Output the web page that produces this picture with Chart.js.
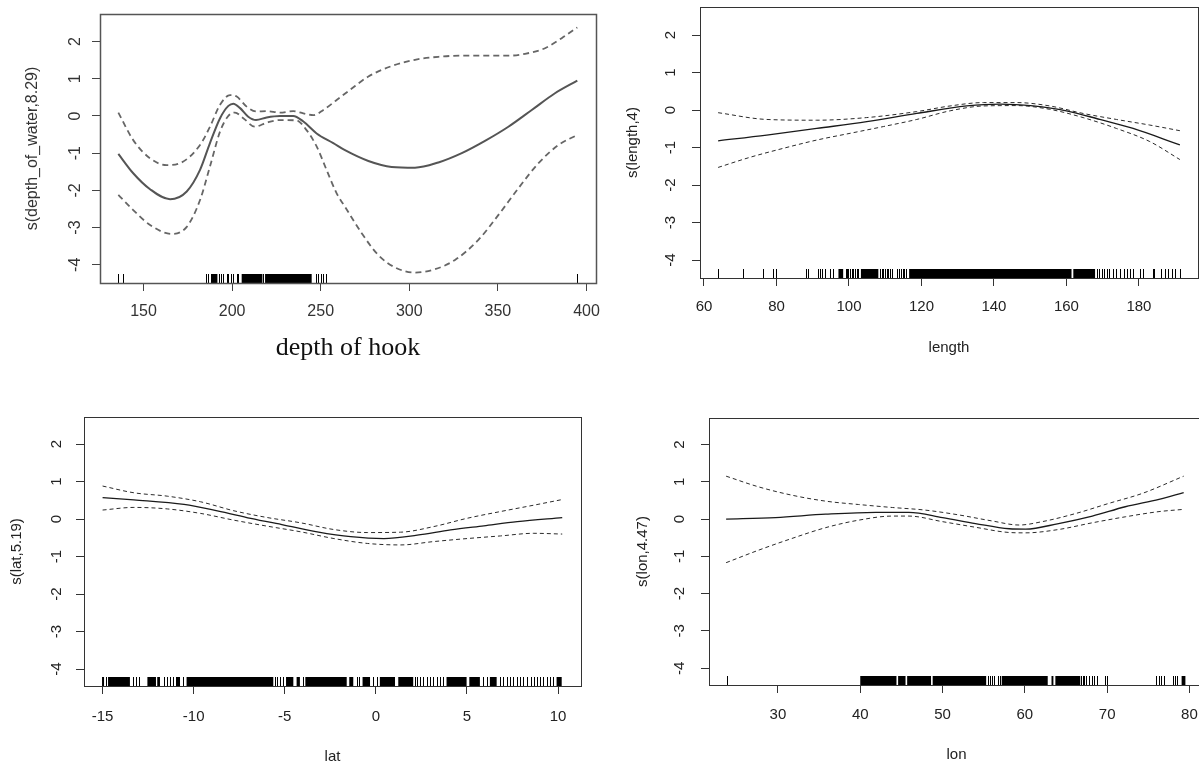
<!DOCTYPE html>
<html>
<head>
<meta charset="utf-8">
<title>GAM smooth terms</title>
<script src="https://cdn.jsdelivr.net/npm/chart.js@4.4.1/dist/chart.umd.min.js"></script>
<style>
  html, body { margin: 0; padding: 0; background: #fff; width: 1199px; height: 768px; overflow: hidden; }
  canvas { position: absolute; }
  #pDepth { filter: blur(0.45px); }
</style>
</head>
<body>
<canvas id="pDepth"></canvas>
<canvas id="pLength"></canvas>
<canvas id="pLat"></canvas>
<canvas id="pLon"></canvas>
<script>
// ---------- smooth term: depth of hook ----------
const depthFitX = [135.8, 144.2, 153.7, 165, 174.4, 181.9, 187.5, 193.2, 197.9, 200.7, 204.5, 209.1, 213.5, 219.5, 227, 234.5, 240.2, 247.7, 257.1, 263.7, 276.9, 290, 303.2, 316.4, 329.6, 342.7, 355.9, 369.1, 382.2, 394.8];
const depthFitY = [-1.02, -1.54, -1.97, -2.24, -2.03, -1.45, -0.73, -0.06, 0.27, 0.33, 0.21, -0.02, -0.11, -0.04, 0, 0, -0.15, -0.47, -0.73, -0.92, -1.21, -1.37, -1.39, -1.25, -1.0, -0.67, -0.29, 0.16, 0.61, 0.95];
const depthUpX = [135.8, 144.2, 153.7, 163, 170.6, 181.9, 187.5, 193.2, 198.8, 202.6, 208.2, 213.8, 219.5, 227, 234.5, 240.2, 245.8, 251.5, 259, 266.5, 276.9, 290, 303.2, 316.4, 329.6, 342.7, 355.9, 365.3, 376.6, 386, 394.8];
const depthUpY = [0.09, -0.65, -1.14, -1.32, -1.27, -0.78, -0.29, 0.30, 0.56, 0.52, 0.25, 0.12, 0.13, 0.09, 0.13, 0.07, 0.02, 0.16, 0.43, 0.70, 1.06, 1.34, 1.51, 1.59, 1.62, 1.62, 1.62, 1.67, 1.82, 2.09, 2.38];
const depthLoX = [135.8, 144.2, 153.7, 165.9, 174.4, 181.9, 187.5, 193.2, 197.9, 201.6, 206.3, 212.9, 219.5, 227, 236.4, 242, 247.7, 253.3, 259, 263.7, 273.1, 282.5, 291.9, 303.2, 314.5, 325.8, 339, 350.3, 361.6, 372.9, 384.2, 394.8];
const depthLoY = [-2.12, -2.53, -2.93, -3.17, -2.98, -2.26, -1.36, -0.42, 0.0, 0.09, -0.06, -0.29, -0.18, -0.11, -0.12, -0.38, -0.82, -1.45, -2.08, -2.44, -3.15, -3.74, -4.07, -4.21, -4.12, -3.87, -3.33, -2.66, -1.94, -1.27, -0.78, -0.51];
const depthRug = [135.8, 138.6, 185.3, 186.6, 187.9, 192.4, 193.5, 195.0, 196.9, 197.9, 199.2, 200.7, 202.6, 203.5, 217.6, 247.3, 248.6, 250.0, 251.5, 253.0, 394.8];
const depthRugDense = [[188.5, 191.7], [205.4, 217.1], [218.6, 244.9]];
const depthTicks = [150, 200, 250, 300, 350, 400];

// ---------- smooth term: length ----------
const lengthFitX = [63.9, 77.3, 91.1, 104.9, 118.7, 132.5, 141.7, 150.8, 160, 169.2, 178.4, 191.3];
const lengthFitY = [-0.82, -0.67, -0.49, -0.31, -0.09, 0.11, 0.16, 0.11, -0.02, -0.25, -0.49, -0.93];
const lengthUpX = [63.9, 77.3, 91.1, 104.9, 118.7, 127.9, 137.1, 146.2, 155.4, 164.6, 173.8, 183, 191.3];
const lengthUpY = [-0.07, -0.25, -0.27, -0.2, -0.04, 0.11, 0.20, 0.20, 0.11, -0.09, -0.25, -0.4, -0.55];
const lengthLoX = [63.9, 72.7, 81.9, 91.1, 100.3, 109.5, 118.7, 127.9, 137.1, 146.2, 155.4, 164.6, 173.8, 183, 191.3];
const lengthLoY = [-1.53, -1.26, -1.02, -0.8, -0.62, -0.44, -0.25, -0.02, 0.11, 0.12, 0.02, -0.2, -0.49, -0.84, -1.32];
const lengthRug = [64, 70.9, 76.2, 79.1, 79.9, 88.1, 88.7, 91.5, 92.1, 92.6, 93.3, 94.7, 95.6, 99.1, 99.4, 99.8, 100.3, 100.7, 101.2, 101.6, 102.1, 102.6, 108.6, 109.0, 109.5, 110.0, 110.4, 110.9, 111.3, 111.8, 113.3, 113.8, 114.3, 114.8, 115.3, 115.7, 168.3, 169.0, 169.7, 170.3, 171.1, 171.8, 172.9, 173.8, 174.9, 175.9, 176.8, 177.5, 178.3, 180.3, 181.2, 183.9, 184.1, 186.2, 187.1, 188.0, 189.0, 189.9, 191.3];
const lengthRugDense = [[97.1, 98.4], [103.3, 108.1], [116.6, 161.4], [161.9, 167.9]];
const lengthTicks = [60, 80, 100, 120, 140, 160, 180];

// ---------- smooth term: lat ----------
const latFitX = [-15, -13.28, -10.53, -8.7, -6.87, -5.04, -3.22, -1.38, 0.44, 2.27, 4.1, 5.93, 7.76, 10.23];
const latFitY = [0.57, 0.51, 0.39, 0.22, 0.02, -0.16, -0.34, -0.47, -0.52, -0.43, -0.29, -0.18, -0.07, 0.04];
const latBandX = [-15, -13.28, -11.45, -9.62, -7.79, -5.96, -4.13, -2.3, -0.47, 1.36, 3.18, 5.01, 6.84, 8.67, 10.23];
const latUpY = [0.88, 0.70, 0.61, 0.46, 0.22, 0.04, -0.1, -0.28, -0.36, -0.35, -0.2, 0.02, 0.2, 0.37, 0.52];
const latLoY = [0.24, 0.31, 0.27, 0.15, -0.03, -0.19, -0.34, -0.52, -0.65, -0.69, -0.6, -0.52, -0.45, -0.38, -0.4];
const latRug = [-14.81, -13.31, -13.17, -13.02, -11.63, -11.45, -11.30, -11.15, -10.6, -5.54, -5.41, -5.26, -5.08, -4.02, -1.05, -0.91, -0.14, 0.04, 2.15, 2.27, 2.42, 2.60, 2.79, 2.97, 3.15, 3.33, 3.52, 3.70, 5.90, 6.08, 6.81, 6.99, 7.18, 7.36, 7.54, 7.73, 7.91, 8.09, 8.27, 8.49, 8.68, 8.86, 9.01, 9.19, 9.37, 9.56, 9.74];
const latRugDense = [[-15.03, -14.92], [-14.70, -13.50], [-12.54, -12.07], [-12.0, -11.85], [-10.97, -10.75], [-10.39, -5.63], [-4.93, -4.53], [-4.35, -4.17], [-3.87, -1.6], [-1.46, -1.24], [-0.73, -0.32], [0.22, 1.05], [1.23, 2.05], [3.88, 4.98], [5.13, 5.71], [6.26, 6.63], [9.92, 10.2]];
const latTicks = [-15, -10, -5, 0, 5, 10];

// ---------- smooth term: lon ----------
const lonFitX = [23.7, 29.7, 35.8, 41.9, 45.9, 50, 54, 58.1, 60.1, 64.1, 68.2, 72.2, 76.3, 79.3];
const lonFitY = [0.0, 0.04, 0.13, 0.18, 0.18, 0.04, -0.12, -0.26, -0.27, -0.12, 0.08, 0.33, 0.53, 0.71];
const lonUpX = [23.7, 27.7, 31.7, 35.8, 39.8, 43.9, 47.9, 52, 56, 59.3, 62.1, 66.2, 70.2, 74.3, 79.3];
const lonUpY = [1.15, 0.86, 0.64, 0.48, 0.39, 0.31, 0.24, 0.11, -0.05, -0.16, -0.07, 0.15, 0.42, 0.69, 1.15];
const lonLoX = [23.7, 27.7, 31.7, 35.8, 39.8, 43.9, 45.9, 50, 54, 58.1, 60.1, 64.1, 68.2, 72.2, 76.3, 79.3];
const lonLoY = [-1.17, -0.83, -0.52, -0.23, -0.03, 0.08, 0.08, -0.07, -0.22, -0.36, -0.37, -0.28, -0.1, 0.06, 0.2, 0.26];
const lonRug = [23.8, 55.57, 55.8, 56.04, 56.27, 56.73, 56.96, 66.87, 67.06, 67.24, 67.43, 67.8, 68.13, 68.36, 68.73, 69.76, 69.99, 75.9, 76.26, 76.5, 76.97, 78.03, 78.22, 78.49];
const lonRugDense = [[40.0, 44.4], [44.6, 45.5], [45.7, 48.6], [48.8, 55.3], [57.19, 62.78], [63.24, 63.47], [63.71, 66.73], [79.05, 79.51]];
const lonTicks = [30, 40, 50, 60, 70, 80];

// shared effect axis
const effectTicks = [-4, -3, -2, -1, 0, 1, 2];

const toPoints = (xs, ys) => xs.map((x, i) => ({ x: x, y: ys[i] }));

// Frame around the plotting region plus the rug of observations along its floor.
const frameAndRug = {
  id: 'frameAndRug',
  afterDatasetsDraw(chart, args, o) {
    const { ctx, chartArea: a } = chart;
    const xs = chart.scales.x;
    const floor = a.bottom, top = a.bottom - o.rugLength;
    ctx.save();
    ctx.strokeStyle = o.rugColor;
    ctx.fillStyle = o.rugColor;
    ctx.lineWidth = 1;
    ctx.beginPath();
    o.rug.forEach(v => {
      const px = Math.round(xs.getPixelForValue(v)) + 0.5;
      ctx.moveTo(px, floor);
      ctx.lineTo(px, top);
    });
    ctx.stroke();
    o.dense.forEach(([v0, v1]) => {
      const p0 = xs.getPixelForValue(v0), p1 = xs.getPixelForValue(v1);
      ctx.fillRect(p0, top, Math.max(1, p1 - p0), floor - top);
    });
    ctx.strokeStyle = o.frameColor;
    ctx.lineWidth = o.frameWidth;
    ctx.strokeRect(a.left + 0.5, a.top + 0.5, a.right - a.left, a.bottom - a.top);
    ctx.restore();
  }
};

function drawPanel(id, p) {
  const cv = document.getElementById(id);
  cv.width = p.w; cv.height = p.h;
  cv.style.left = p.left + 'px'; cv.style.top = p.top + 'px';
  cv.style.width = p.w + 'px'; cv.style.height = p.h + 'px';
  const lineBase = { pointRadius: 0, fill: false, cubicInterpolationMode: 'monotone' };
  const tickFont = { family: "'Liberation Sans', Arial, sans-serif", size: p.tickSize };
  new Chart(cv, {
    type: 'line',
    data: {
      datasets: [
        Object.assign({ data: p.fit, borderColor: p.fitColor, borderWidth: p.fitWidth }, lineBase),
        Object.assign({ data: p.upper, borderColor: p.bandColor, borderWidth: p.bandWidth, borderDash: p.dash }, lineBase),
        Object.assign({ data: p.lower, borderColor: p.bandColor, borderWidth: p.bandWidth, borderDash: p.dash }, lineBase)
      ]
    },
    options: {
      responsive: false,
      animation: false,
      devicePixelRatio: 1,
      events: [],
      layout: { padding: { left: 0, top: p.area.top, right: p.w - p.area.right, bottom: 0 } },
      plugins: {
        legend: { display: false },
        tooltip: { enabled: false },
        frameAndRug: { rug: p.rug, dense: p.dense, rugLength: 9, rugColor: '#000', frameColor: p.frameColor, frameWidth: p.frameWidth }
      },
      scales: {
        x: {
          type: 'linear', position: 'bottom', bounds: 'data',
          min: p.xMin, max: p.xMax,
          afterBuildTicks: s => { s.ticks = p.xTicks.map(v => ({ value: v })); },
          afterFit: s => { s.height = p.h - p.area.bottom; s.paddingLeft = 0; s.paddingRight = 0; },
          grid: { display: true, drawOnChartArea: false, drawTicks: true, tickLength: 8, color: p.axisColor, lineWidth: 1 },
          border: { display: false },
          ticks: { autoSkip: false, minRotation: 0, maxRotation: 0, padding: p.xTickPad, color: p.textColor, font: tickFont, callback: v => String(v) },
          title: { display: true, text: p.xTitle, color: p.xTitleColor, font: p.xTitleFont, padding: { top: 0, bottom: p.xTitlePad } }
        },
        y: {
          type: 'linear', position: 'left', bounds: 'data',
          min: p.yMin, max: p.yMax,
          afterBuildTicks: s => { s.ticks = effectTicks.map(v => ({ value: v })); },
          afterFit: s => { s.width = p.area.left; s.paddingTop = 0; s.paddingBottom = 0; },
          grid: { display: true, drawOnChartArea: false, drawTicks: true, tickLength: 8, color: p.axisColor, lineWidth: 1 },
          border: { display: false },
          ticks: { autoSkip: false, minRotation: 90, maxRotation: 90, crossAlign: 'center', padding: p.yTickPad, color: p.textColor, font: tickFont, callback: v => String(v) },
          title: { display: true, text: p.yTitle, color: p.textColor, font: tickFont, padding: { top: p.yTitlePad, bottom: 0 } }
        }
      }
    },
    plugins: [frameAndRug]
  });
}

drawPanel('pDepth', {
  left: 0, top: 0, w: 600, h: 384,
  area: { left: 100, top: 14, right: 596, bottom: 283 },
  xMin: 125.45, xMax: 405.35, yMin: -4.49, yMax: 2.74,
  xTicks: depthTicks,
  fit: toPoints(depthFitX, depthFitY), upper: toPoints(depthUpX, depthUpY), lower: toPoints(depthLoX, depthLoY),
  rug: depthRug, dense: depthRugDense,
  fitColor: '#555', fitWidth: 2, bandColor: '#666', bandWidth: 1.8, dash: [6, 4],
  frameColor: '#555', frameWidth: 1.5, axisColor: '#444', textColor: '#333',
  tickSize: 16, xTickPad: 11, yTickPad: 9,
  xTitle: 'depth of hook', xTitleColor: '#111',
  xTitleFont: { family: "'Liberation Serif', 'Times New Roman', serif", size: 26 },
  xTitlePad: 20, yTitle: 's(depth_of_water,8.29)', yTitlePad: 23
});

drawPanel('pLength', {
  left: 600, top: 0, w: 620, h: 384,
  area: { left: 100, top: 7, right: 598, bottom: 278 },
  xMin: 58.9, xMax: 196.3, yMin: -4.48, yMax: 2.75,
  xTicks: lengthTicks,
  fit: toPoints(lengthFitX, lengthFitY), upper: toPoints(lengthUpX, lengthUpY), lower: toPoints(lengthLoX, lengthLoY),
  rug: lengthRug, dense: lengthRugDense,
  fitColor: '#1a1a1a', fitWidth: 1.3, bandColor: '#2a2a2a', bandWidth: 1, dash: [4, 3],
  frameColor: '#333', frameWidth: 1, axisColor: '#333', textColor: '#222',
  tickSize: 15, xTickPad: 12, yTickPad: 14,
  xTitle: 'length', xTitleColor: '#222',
  xTitleFont: { family: "'Liberation Sans', Arial, sans-serif", size: 15 },
  xTitlePad: 27, yTitle: 's(length,4)', yTitlePad: 23.5
});

drawPanel('pLat', {
  left: 0, top: 390, w: 600, h: 378,
  area: { left: 84, top: 27, right: 581, bottom: 296 },
  xMin: -16.02, xMax: 11.26, yMin: -4.45, yMax: 2.72,
  xTicks: latTicks,
  fit: toPoints(latFitX, latFitY), upper: toPoints(latBandX, latUpY), lower: toPoints(latBandX, latLoY),
  rug: latRug, dense: latRugDense,
  fitColor: '#1a1a1a', fitWidth: 1.3, bandColor: '#2a2a2a', bandWidth: 1, dash: [4, 3],
  frameColor: '#333', frameWidth: 1, axisColor: '#333', textColor: '#222',
  tickSize: 15, xTickPad: 13.5, yTickPad: 12.5,
  xTitle: 'lat', xTitleColor: '#222',
  xTitleFont: { family: "'Liberation Sans', Arial, sans-serif", size: 15 },
  xTitlePad: 2.5, yTitle: 's(lat,5.19)', yTitlePad: 8
});

drawPanel('pLon', {
  left: 600, top: 390, w: 620, h: 378,
  area: { left: 109, top: 28, right: 604, bottom: 295 },
  xMin: 21.62, xMax: 81.77, yMin: -4.45, yMax: 2.71,
  xTicks: lonTicks,
  fit: toPoints(lonFitX, lonFitY), upper: toPoints(lonUpX, lonUpY), lower: toPoints(lonLoX, lonLoY),
  rug: lonRug, dense: lonRugDense,
  fitColor: '#1a1a1a', fitWidth: 1.3, bandColor: '#2a2a2a', bandWidth: 1, dash: [4, 3],
  frameColor: '#333', frameWidth: 1, axisColor: '#333', textColor: '#222',
  tickSize: 15, xTickPad: 13, yTickPad: 14,
  xTitle: 'lon', xTitleColor: '#222',
  xTitleFont: { family: "'Liberation Sans', Arial, sans-serif", size: 15 },
  xTitlePad: 4, yTitle: 's(lon,4.47)', yTitlePad: 34
});
</script>
</body>
</html>
